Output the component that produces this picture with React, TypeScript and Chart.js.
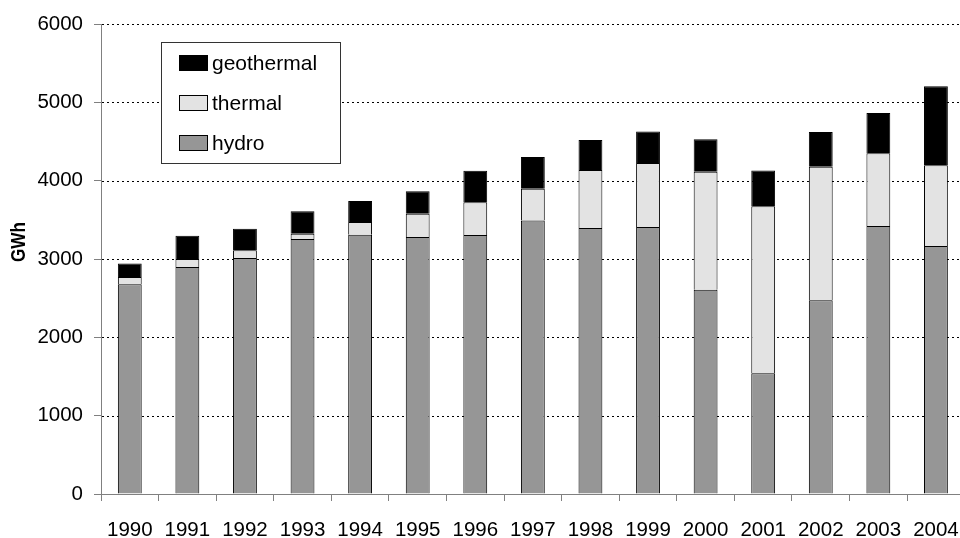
import React, { useEffect, useRef } from 'react';
import { Chart, registerables } from 'chart.js';

Chart.register(...registerables);

const years = ['1990', '1991', '1992', '1993', '1994', '1995', '1996', '1997', '1998', '1999', '2000', '2001', '2002', '2003', '2004'];
const hydro = [2677, 2898, 3013, 3255, 3310, 3281, 3307, 3490, 3396, 3409, 2608, 1541, 2473, 3421, 3166];
const thermal = [93, 102, 98, 68, 162, 298, 417, 408, 740, 817, 1507, 2132, 1706, 930, 1032];
const geothermal = [173, 298, 276, 286, 269, 286, 404, 404, 382, 403, 415, 457, 441, 512, 1006];
const seriesNames = ['hydro', 'thermal', 'geothermal'];
const seriesColors = ['#969696', '#e3e3e3', '#000000'];
const yMin = 0;
const yMax = 6000;
const yStep = 1000;
const axisTitle = 'GWh';

const FONT = "'Liberation Sans', Arial, sans-serif";

const decorPlugin = {
  id: 'decor',
  beforeDatasetsDraw(chart: any) {
    const { ctx, chartArea, scales } = chart;
    const y = scales.y;
    ctx.save();
    ctx.strokeStyle = '#000000';
    ctx.lineWidth = 1;
    ctx.setLineDash([2, 3]);
    y.ticks.forEach((t: any) => {
      if (t.value <= yMin) return;
      const py = Math.round(y.getPixelForValue(t.value)) + 0.5;
      ctx.beginPath();
      ctx.moveTo(chartArea.left + 1, py);
      ctx.lineTo(chartArea.right + 20, py);
      ctx.stroke();
    });
    ctx.restore();
  },
  afterDraw(chart: any) {
    const { ctx } = chart;
    // axis title (slightly tall, as in the reference)
    ctx.save();
    ctx.translate(19, 242);
    ctx.rotate(-Math.PI / 2);
    ctx.scale(0.9, 1.1);
    ctx.font = `bold 19px ${FONT}`;
    ctx.fillStyle = '#000';
    ctx.textAlign = 'center';
    ctx.textBaseline = 'middle';
    ctx.fillText(axisTitle, 0, 0);
    ctx.restore();

    // legend box
    ctx.save();
    ctx.fillStyle = '#ffffff';
    ctx.fillRect(161, 42, 180, 122);
    ctx.strokeStyle = '#333333';
    ctx.lineWidth = 1;
    ctx.strokeRect(161.5, 42.5, 179, 121);
    const ds = chart.data.datasets;
    const order = ds.map((_: any, i: number) => i).reverse();
    order.forEach((di: number, k: number) => {
      const cy = 63 + k * 40;
      ctx.fillStyle = ds[di].backgroundColor;
      ctx.fillRect(179, cy - 7, 28, 14);
      ctx.strokeStyle = '#000';
      ctx.strokeRect(179.5, cy - 7.5, 28, 15);
      ctx.fillStyle = '#000';
      ctx.font = `21px ${FONT}`;
      ctx.textAlign = 'left';
      ctx.textBaseline = 'middle';
      ctx.fillText(ds[di].label, 212, cy + 1);
    });
    ctx.restore();
  },
};

export default function App() {
  const ref = useRef<HTMLCanvasElement | null>(null);

  useEffect(() => {
    if (!ref.current) return;
    const series = [hydro, thermal, geothermal];
    const chart = new Chart(ref.current, {
      type: 'bar',
      data: {
        labels: years,
        datasets: series.map((d, i) => ({
          label: seriesNames[i],
          data: d,
          backgroundColor: seriesColors[i],
          borderColor: '#000000',
          borderWidth: 1,
          barPercentage: 0.414,
          categoryPercentage: 1,
        })),
      },
      options: {
        animation: false,
        responsive: false,
        devicePixelRatio: 1,
        layout: { padding: { left: 0, right: 8, top: 24, bottom: 0 } },
        plugins: {
          legend: { display: false },
          tooltip: { enabled: false },
        },
        scales: {
          x: {
            stacked: true,
            grid: {
              display: true,
              drawOnChartArea: false,
              drawTicks: true,
              tickLength: 7,
              offset: true,
              color: '#808080',
            },
            border: { display: true, color: '#808080', width: 1 },
            ticks: {
              color: '#000',
              font: { family: FONT, size: 20.5 },
              padding: 17,
              maxRotation: 0,
              autoSkip: false,
            },
            afterFit(scale: any) {
              scale.height = 44;
            },
          },
          y: {
            stacked: true,
            min: yMin,
            max: yMax,
            grid: {
              display: true,
              drawOnChartArea: false,
              drawTicks: true,
              tickLength: 7,
              color: '#808080',
            },
            border: { display: true, color: '#808080', width: 1 },
            ticks: {
              stepSize: yStep,
              color: '#000',
              font: { family: FONT, size: 20.5 },
              padding: 11,
              callback: (v: any) => String(v),
            },
            afterFit(scale: any) {
              scale.width = 101;
            },
          },
        },
      },
      plugins: [decorPlugin],
    });
    return () => chart.destroy();
  }, []);

  return (
    <div
      style={{
        position: 'fixed',
        left: 0,
        top: 0,
        width: 960,
        height: 538,
        overflow: 'hidden',
        background: '#ffffff',
      }}
    >
      <canvas ref={ref} width={976} height={538} style={{ display: 'block' }} />
    </div>
  );
}
